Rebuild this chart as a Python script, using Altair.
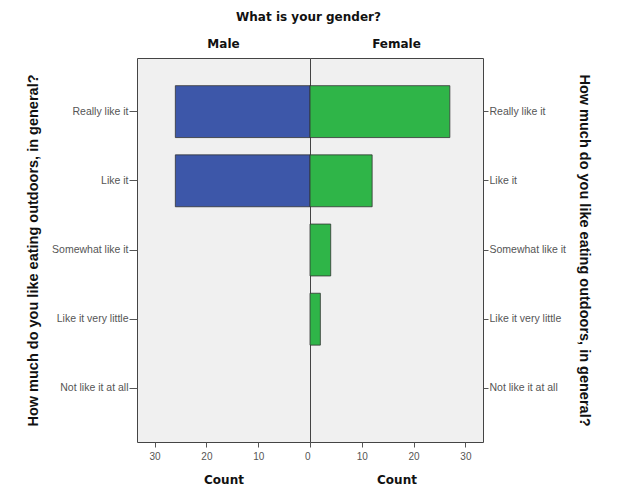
import altair as alt
import pandas as pd

categories = ["Really like it", "Like it", "Somewhat like it", "Like it very little", "Not like it at all"]
male_counts = [26, 26, 0, 0, 0]
female_counts = [27, 12, 4, 2, 0]
male_ticks = [0, 10, 20, 30]
female_ticks = [10, 20, 30]
y_title = "How much do you like eating outdoors, in general?"

male_df = pd.DataFrame({"category": categories, "count": male_counts})
female_df = pd.DataFrame({"category": categories, "count": female_counts})

FONT = "Liberation Sans"
HFONT = "DejaVu Sans"
y_scale = alt.Scale(domain=categories, paddingInner=0.25, paddingOuter=0.4)


def x_axis(ticks):
    return alt.Axis(values=ticks, title="Count", tickSize=5, labelFontSize=10,
                    labelColor="#555", labelFont=FONT, titleFont=HFONT,
                    titleFontSize=12, titleFontWeight="bold", titleColor="#111",
                    domain=False, grid=False, tickColor="#555", labelPadding=4,
                    titlePadding=13)


def y_axis(orient, angle, label_align, tick):
    return alt.Axis(orient=orient, title=y_title, titleAngle=angle, tickSize=tick,
                    labelFontSize=10.5, labelColor="#555", labelFont=FONT,
                    labelAlign=label_align, labelPadding=1,
                    titleFont=FONT, titleFontSize=14.5, titleFontWeight="bold",
                    titleColor="#111", titlePadding=11, domain=False, grid=False,
                    tickColor="#555")


def header(text):
    return alt.TitleParams(text, fontSize=12, fontWeight="bold", font=HFONT,
                           color="#111", offset=7, anchor="middle")


left = alt.Chart(male_df, title=header("Male")).mark_bar(
    color="#3d57a9", stroke="#333", strokeWidth=0.8
).encode(
    x=alt.X("count:Q", scale=alt.Scale(domain=[0, 33.4], reverse=True, nice=False),
            axis=x_axis(male_ticks)),
    y=alt.Y("category:N", sort=categories, scale=y_scale,
            axis=y_axis("left", -90, "right", 8)),
).transform_filter("datum.count > 0").properties(width=173, height=384)

right = alt.Chart(female_df, title=header("Female")).mark_bar(
    color="#2fb548", stroke="#333", strokeWidth=0.8
).encode(
    x=alt.X("count:Q", scale=alt.Scale(domain=[0, 33.4], nice=False),
            axis=x_axis(female_ticks)),
    y=alt.Y("category:N", sort=categories, scale=y_scale,
            axis=y_axis("right", 90, "left", 5)),
).transform_filter("datum.count > 0").properties(width=173, height=384)

chart = alt.hconcat(
    left, right, spacing=0, bounds="flush",
    title=alt.TitleParams("What is your gender?", fontSize=12, fontWeight="bold",
                          font=HFONT, color="#111", anchor="middle", offset=14),
).resolve_scale(x="independent").configure_view(
    fill="#f0f0f0", stroke="#444", strokeWidth=1
).properties(padding={"left": 17, "top": 2, "right": 5, "bottom": 5})

chart.save("out.html", embed_options={"renderer": "svg", "actions": False})
